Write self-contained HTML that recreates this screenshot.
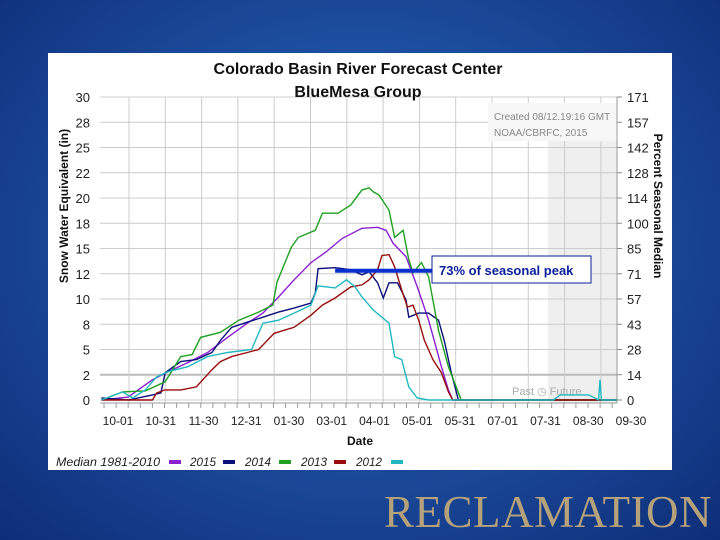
<!DOCTYPE html>
<html><head><meta charset="utf-8"><style>
html,body{margin:0;padding:0;width:720px;height:540px;overflow:hidden}
body{background:radial-gradient(ellipse at 50% 45%,#2f6fc0 0%,#1d4fa0 45%,#0e2d78 100%);font-family:"Liberation Sans",sans-serif;position:relative}
#panel{position:absolute;left:48px;top:53px;width:624px;height:417px;background:#fff}
#recl{position:absolute;left:384px;top:486px;font-family:"Liberation Serif",serif;font-size:45px;color:#b5a27a;letter-spacing:0.5px;white-space:nowrap}
</style></head><body>
<div id="panel"></div>
<svg id="chart" width="720" height="540" style="position:absolute;left:0;top:0"></svg>
<div id="recl">RECLAMATION</div>
<script>
const leftTicks=["30","28","25","22","20","18","15","12","10","8","5","2","0"];
const rightTicks=["171","157","142","128","114","100","85","71","57","43","28","14","0"];
const dateLabels=["10-01","10-31","11-30","12-31","01-30","03-01","04-01","05-01","05-31","07-01","07-31","08-30","09-30"];
const seriesNames=["2015","2014","2013","2012","median"];
const days2013=[1,16,32,46,57,65,71,85,98,112,122,125,135,140,152,157,168,177,185,190,193,197,204,208,214,218,221,227,232,239,246,255,365];
const vals2013=[0,0.8,0.9,1.8,4.3,4.5,6.2,6.7,7.9,8.7,9.4,11.7,15.1,16.1,16.8,18.5,18.5,19.3,20.8,21.0,20.6,20.3,18.8,16.1,16.8,13.9,12.6,13.6,12.2,6.9,3.3,0,0];
const days2015=[1,20,37,48,62,76,90,104,115,126,137,149,160,171,185,196,202,207,216,224,232,241,246,249,365];
const vals2015=[0,0.3,2,2.8,3.7,4.7,6.2,7.6,8.6,10.2,11.9,13.6,14.7,16.0,17.0,17.1,16.8,15.5,14.2,11.2,7.9,3.3,1,0,0];
const days2014=[1,20,37,43,46,57,68,79,85,93,104,115,126,137,149,152,154,166,177,185,190,196,200,204,210,216,218,225,232,239,243,248,253,365];
const vals2014=[0.2,0,0.5,0.7,2.7,3.8,4,4.7,5.9,7.2,7.7,8.2,8.7,9.1,9.6,10.6,13.0,13.1,12.9,12.4,12.7,11.6,10.1,11.6,11.6,9.9,8.2,8.6,8.6,7.9,5.9,2.7,0,0];
const days2012=[1,20,37,40,46,57,68,79,85,93,104,112,123,137,149,157,166,177,185,190,196,199,204,208,213,217,221,225,229,235,241,246,249,365];
const vals2012=[0,0,0,0.7,1.0,1.0,1.3,3.0,3.8,4.3,4.7,5.0,6.6,7.2,8.4,9.4,10.1,11.2,11.4,11.9,12.9,14.3,14.4,13.2,10.9,9.2,9.4,7.9,5.9,4.0,2.7,0.8,0,0];
const daysTeal=[1,16,23,32,40,48,62,76,90,107,115,126,137,149,154,166,174,180,185,193,199,204,208,213,218,224,232,320,325,345,352,353,354,365];
const valsTeal=[0,0.8,0.2,1.0,2.3,2.8,3.3,4.3,4.7,5.0,7.6,7.9,8.6,9.4,11.3,11.1,11.9,11.2,10.2,8.9,8.2,7.6,4.3,4.0,1.3,0.2,0,0,0.5,0.5,0,2.0,0,0];
const peakValue=12.9, peakStartDay=166;

const svg=document.getElementById('chart');const NS='http://www.w3.org/2000/svg';
function el(t,a,txt){const e=document.createElementNS(NS,t);for(const k in a)e.setAttribute(k,a[k]);if(txt!=null)e.textContent=txt;svg.appendChild(e);return e;}
const X0=100,X1=617,Y0=400,Y30=97;
const xs=d=>X0+d*(X1-X0)/365;
const ys=v=>Y0-v*(Y0-Y30)/30;
let e=el('rect',{x:548,y:140,width:X1-548,height:263,fill:'#efefef'});


leftTicks.forEach((t,i)=>{const y=Y30+i*(Y0-Y30)/12;
 let g=el('line',{x1:X0,x2:X1,y1:y,y2:y,stroke:i==11?'#bbb':'#ccc','stroke-width':i==11?2:1});
 
 let l=el('text',{x:90,y:y+5,'text-anchor':'end','font-size':13,fill:'#222'},t);
 
 let r=el('text',{x:627,y:y+5,'font-size':13,fill:'#222'},rightTicks[i]);
 
 el('line',{x1:X1,x2:X1+5,y1:y,y2:y,stroke:'#888'});
});
for(let x=129;x<X1;x+=36.3){let g=el('line',{x1:x,x2:x,y1:Y30,y2:403,stroke:'#ccc'});
 }
for(let x=104;x<X1;x+=12.1){el('line',{x1:x,x2:x,y1:403,y2:408,stroke:'#999'});}
el('line',{x1:X0,x2:X1,y1:403,y2:403,stroke:'#999'});
el('line',{x1:X1,x2:X1,y1:Y30,y2:403,stroke:'#999'});
e=el('rect',{x:488,y:103,width:128,height:38,fill:'#f7f7f7'});

e=el('text',{x:494,y:120,'font-size':10,fill:'#888'},'Created 08/12.19:16 GMT');

e=el('text',{x:494,y:136,'font-size':10,fill:'#888'},'NOAA/CBRFC, 2015');

e=el('text',{x:512,y:395,'font-size':11,fill:'#aaa'},'Past  \u25F7  Future');

const S=[[days2015,vals2015,'#8a1fd0','line-2015'],[days2014,vals2014,'#0a0f7a','line-2014'],[days2013,vals2013,'#20a020','line-2013'],[days2012,vals2012,'#990c0c','line-2012'],[daysTeal,valsTeal,'#20b8c0','line-teal']];
S.forEach(s=>{const p=s[0].map((d,i)=>xs(d).toFixed(1)+','+ys(s[1][i]).toFixed(1)).join(' ');
 let l=el('polyline',{points:p,fill:'none',stroke:s[2],'stroke-width':1.4});
 });
e=el('line',{x1:xs(peakStartDay),x2:432,y1:ys(peakValue)+1,y2:ys(peakValue)+1,stroke:'#0a2fd0','stroke-width':4});

e=el('rect',{x:432,y:256,width:159,height:27,fill:'#fff',stroke:'#0a1f9a','stroke-width':1});

e=el('text',{x:439,y:275,'font-size':13,'font-weight':'bold',fill:'#0a1f9a'},'73% of seasonal peak');

dateLabels.forEach((t,i)=>{let l=el('text',{x:118+i*42.75,y:425,'text-anchor':'middle','font-size':12,fill:'#222'},t);
 });
e=el('text',{x:358,y:74,'text-anchor':'middle','font-size':16,'font-weight':'bold',fill:'#111'},'Colorado Basin River Forecast Center');

e=el('text',{x:358,y:97,'text-anchor':'middle','font-size':16,'font-weight':'bold',fill:'#111'},'BlueMesa Group');

e=el('text',{x:360,y:445,'text-anchor':'middle','font-size':12,'font-weight':'bold',fill:'#111'},'Date');

e=el('text',{x:0,y:0,'text-anchor':'middle','font-size':12,'font-weight':'bold',fill:'#111',transform:'translate(68,206) rotate(-90)'},'Snow Water Equivalent (in)');

e=el('text',{x:0,y:0,'text-anchor':'middle','font-size':12,'font-weight':'bold',fill:'#111',transform:'translate(654,206) rotate(90)'},'Percent Seasonal Median');

const legItems=[['Median 1981-2010','#8a1fd0',56,104,169],['2015','#0a0f7a',190,26,223],['2014','#20a020',245,26,279],['2013','#990c0c',301,26,334],['2012','#20b8c0',356,26,391]];
legItems.forEach(it=>{let t=el('text',{x:it[2],y:466,'font-size':12,'font-style':'italic',fill:'#222',textLength:it[3],lengthAdjust:'spacingAndGlyphs'},it[0]);
 
 let r=el('rect',{x:it[4],y:460,width:12,height:4,fill:it[1]});
 });
</script>
</body></html>
